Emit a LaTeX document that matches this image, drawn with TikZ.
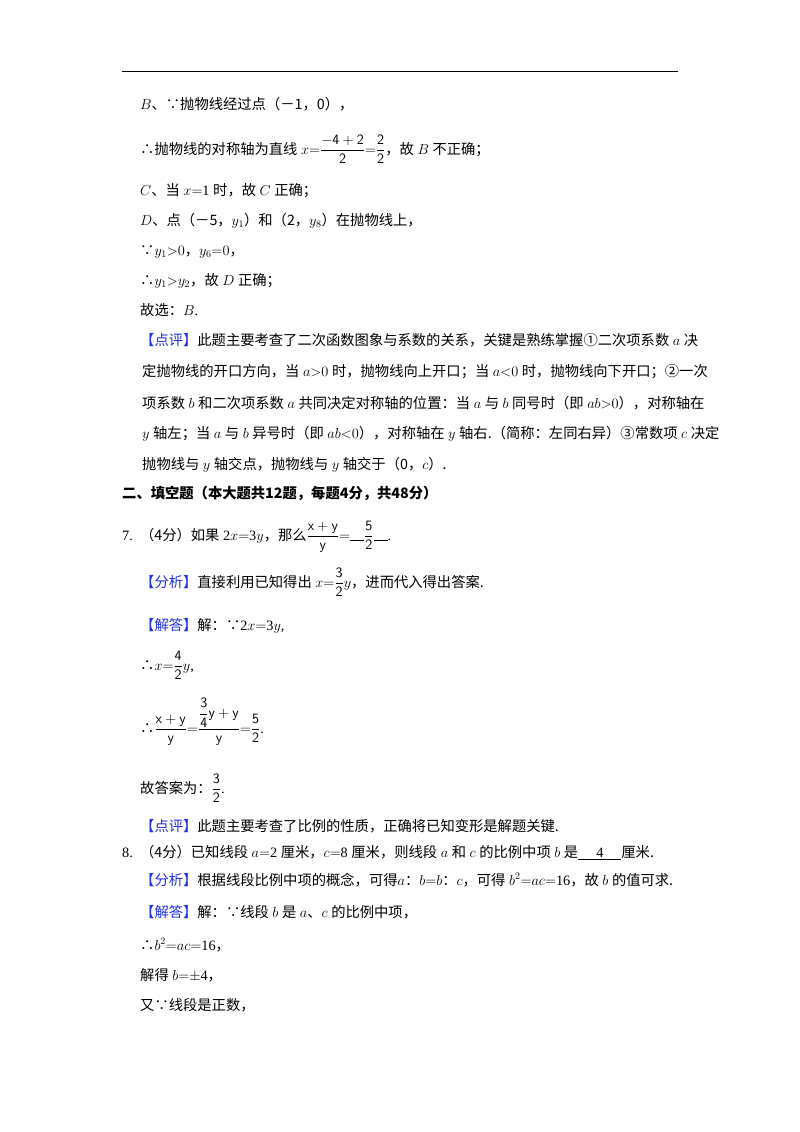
\documentclass[tikz,border=0pt]{standalone}
\usepackage{fontspec}
\usepackage{amsmath}
\setmainfont{Liberation Serif}
\newfontfamily\cjk{Noto Sans CJK SC}
\newcommand\zh[1]{{\cjk #1}}
\definecolor{tagblue}{RGB}{30,50,230}
\newcommand\lbl[1]{\textcolor{tagblue}{\zh{【#1】}}}
\newcommand\bl{\rule[-1pt]{14pt}{0.6pt}}
\tikzset{ln/.style={anchor=base west,inner sep=0pt,font=\fontsize{14.3}{17}\selectfont}}
\begin{document}
\begin{tikzpicture}[x=1pt,y=-1pt]
\useasboundingbox (0,0) rectangle (800,1132);
\fill[white] (0,0) rectangle (800,1132);
\draw[line width=1pt] (122,72) -- (678,72);
\node[ln] (l1) at (140,109) {$B$\zh{、∵抛物线经过点（－1，0），}};
\node[ln] (l2) at (140,154) {\zh{∴抛物线的对称轴为直线} $x{=}\dfrac{\mathsf{-4+2}}{\mathsf{2}}{=}\dfrac{\mathsf 2}{\mathsf 2}$\zh{，故} $B$ \zh{不正确；}};
\node[ln] (l3) at (140,195) {$C$\zh{、当} $x{=}$1 \zh{时，故} $C$ \zh{正确；}};
\node[ln] (l4) at (140,225) {$D$\zh{、点（－5，}$y_1$\zh{）和（2，}$y_8$\zh{）在抛物线上，}};
\node[ln] (l5) at (140,255) {\zh{∵}$y_1{>}0$\zh{，}$y_6{=}0$\zh{，}};
\node[ln] (l6) at (140,285) {\zh{∴}$y_1{>}y_2$\zh{，故} $D$ \zh{正确；}};
\node[ln] (l7) at (140,315) {\zh{故选：}$B$.};
\node[ln] (p1) at (140,345) {\lbl{点评}\zh{此题主要考查了二次函数图象与系数的关系，关键是熟练掌握①二次项系数} $a$ \zh{决}};
\node[ln] (p2) at (142,376) {\zh{定抛物线的开口方向，当} $a{>}0$ \zh{时，抛物线向上开口；当} $a{<}0$ \zh{时，抛物线向下开口；②一次}};
\node[ln] (p3) at (142,408) {\zh{项系数} $b$ \zh{和二次项系数} $a$ \zh{共同决定对称轴的位置：当} $a$ \zh{与} $b$ \zh{同号时（即} $ab{>}0$\zh{），对称轴在}};
\node[ln] (p4) at (142,438) {$y$ \zh{轴左；当} $a$ \zh{与} $b$ \zh{异号时（即} $ab{<}0$\zh{），对称轴在} $y$ \zh{轴右.（简称：左同右异）③常数项} $c$ \zh{决定}};
\node[ln] (p5) at (142,469) {\zh{抛物线与} $y$ \zh{轴交点，抛物线与} $y$ \zh{轴交于（0，}$c$\zh{）.}};
\node[ln] (h2) at (122,498) {\zh{\textbf{二、填空题（本大题共12题，每题4分，共48分）}}};
\node[ln] (q7) at (122,540) {7.\ \ \zh{（4分）如果} 2$x{=}$3$y$\zh{，那么}$\dfrac{\mathsf{x+y}}{\mathsf y}{=}$\bl$\dfrac{\mathsf 5}{\mathsf 2}$\bl.};
\node[ln] (a7) at (140,587) {\lbl{分析}\zh{直接利用已知得出} $x{=}\dfrac{\mathsf 3}{\mathsf 2}y$\zh{，进而代入得出答案.}};
\node[ln] (s7) at (140,630) {\lbl{解答}\zh{解：∵}2$x{=}$3$y$,};
\node[ln] (s7b) at (140,670) {\zh{∴}$x{=}\dfrac{\mathsf 4}{\mathsf 2}y$,};
\node[ln] (s7c) at (140,733) {\zh{∴}$\dfrac{\mathsf{x+y}}{\mathsf y}{=}\dfrac{\dfrac{\mathsf 3}{\mathsf 4}\mathsf{y+y}}{\mathsf y}{=}\dfrac{\mathsf 5}{\mathsf 2}$.};
\node[ln] (s7d) at (140,793) {\zh{故答案为：}$\dfrac{\mathsf 3}{\mathsf 2}$.};
\node[ln] (c7) at (140,831) {\lbl{点评}\zh{此题主要考查了比例的性质，正确将已知变形是解题关键.}};
\node[ln] (q8) at (122,857) {8.\ \ \zh{（4分）已知线段} $a{=}$2 \zh{厘米，}$c{=}$8 \zh{厘米，则线段} $a$ \zh{和} $c$ \zh{的比例中项} $b$ \zh{是}\underline{\hspace{18pt}4\hspace{18pt}}\zh{厘米.}};
\node[ln] (a8) at (140,885) {\lbl{分析}\zh{根据线段比例中项的概念，可得}$a$\zh{：}$b{=}b$\zh{：}$c$\zh{，可得} $b^2{=}ac{=}$16\zh{，故} $b$ \zh{的值可求.}};
\node[ln] (s8) at (140,917) {\lbl{解答}\zh{解：∵线段} $b$ \zh{是} $a$\zh{、}$c$ \zh{的比例中项，}};
\node[ln] (s8b) at (140,950) {\zh{∴}$b^2{=}ac{=}$16\zh{，}};
\node[ln] (s8c) at (140,980) {\zh{解得} $b{=}{\pm}$4\zh{，}};
\node[ln] (s8d) at (140,1010) {\zh{又∵线段是正数，}};
\end{tikzpicture}
\end{document}
